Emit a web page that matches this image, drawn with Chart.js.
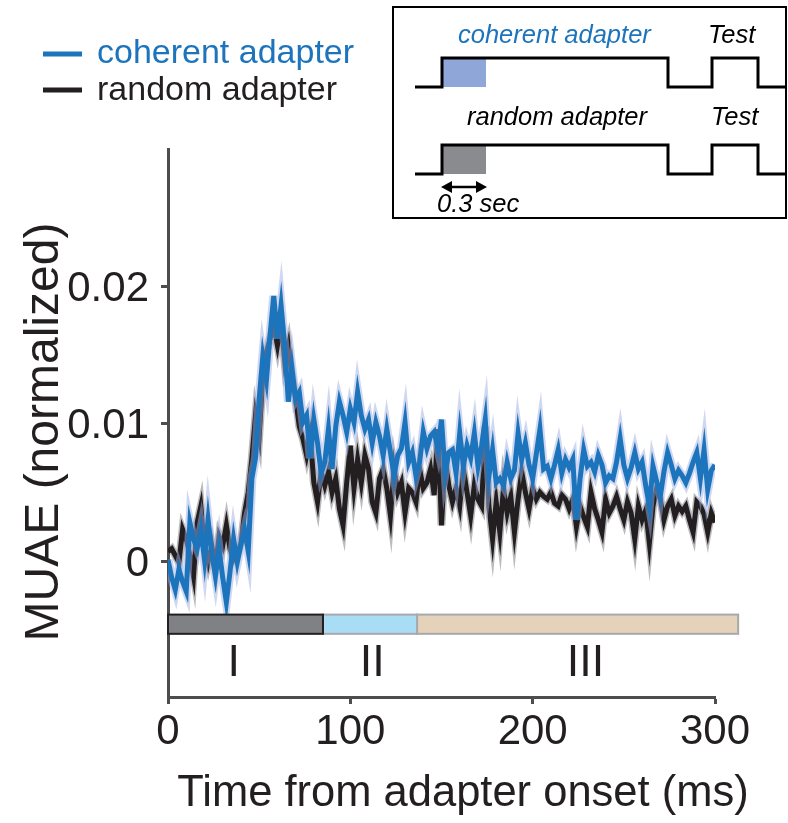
<!DOCTYPE html>
<html>
<head>
<meta charset="utf-8">
<script src="https://cdn.jsdelivr.net/npm/chart.js@4.4.1/dist/chart.umd.min.js"></script>
<style>
html,body{margin:0;padding:0;background:#fff;}
#wrap{width:788px;height:823px;position:relative;}
</style>
</head>
<body>
<div id="wrap"><canvas id="c" width="788" height="823"></canvas></div>
<script>
// ---- data ----
const timeMs = [0,2,4,6,8,10,12,14,16,18,20,22,24,26,28,30,32,34,36,38,40,42,44,46,48,50,52,54,56,58,60,62,64,66,68,70,72,74,76,78,80,82,84,86,88,90,92,94,96,98,100,102,104,106,108,110,112,114,116,118,120,122,124,126,128,130,132,134,136,138,140,142,144,146,148,150,152,154,156,158,160,162,164,166,168,170,172,174,176,178,180,182,184,186,188,190,192,194,196,198,200,202,204,206,208,210,212,214,216,218,220,222,224,226,228,230,232,234,236,238,240,242,244,246,248,250,252,254,256,258,260,262,264,266,268,270,272,274,276,278,280,282,284,286,288,290,292,294,296,298,300];

const coherent = [0.0001,-0.0012,-0.0021,-0.0006,-0.0015,-0.0022,0.0028,0.0016,0.0009,0.0023,
0.0001,0.0030,0.0006,-0.0011,0.0009,-0.0012,-0.0030,-0.0008,0.0016,-0.0001,
0.0012,0.0023,0.0007,0.0060,0.0075,0.0118,0.0149,0.0132,0.0165,0.0193,
0.0162,0.0186,0.0157,0.0116,0.0140,0.0118,0.0123,0.0101,0.0106,0.0075,
0.0103,0.0086,0.0064,0.0072,0.0096,0.0067,0.0098,0.0116,0.0106,0.0094,
0.0111,0.0101,0.0123,0.0106,0.0096,0.0103,0.0086,0.0101,0.0091,0.0077,
0.0096,0.0079,0.0062,0.0077,0.0082,0.0101,0.0072,0.0079,0.0062,0.0072,
0.0094,0.0082,0.0091,0.0094,0.0082,0.0103,0.0064,0.0079,0.0081,0.0064,
0.0093,0.0069,0.0084,0.0075,0.0093,0.0069,0.0084,0.0103,0.0062,0.0081,
0.0057,0.0060,0.0055,0.0072,0.0060,0.0066,0.0093,0.0074,0.0086,0.0070,
0.0060,0.0078,0.0096,0.0067,0.0069,0.0060,0.0070,0.0081,0.0064,0.0074,
0.0068,0.0074,0.0030,0.0060,0.0081,0.0069,0.0072,0.0065,0.0077,0.0070,
0.0057,0.0062,0.0060,0.0072,0.0089,0.0070,0.0060,0.0068,0.0079,0.0067,
0.0072,0.0055,0.0040,0.0069,0.0058,0.0047,0.0065,0.0079,0.0070,0.0060,
0.0066,0.0062,0.0057,0.0064,0.0072,0.0079,0.0060,0.0081,0.0052,0.0066,
0.0070];

const random = [0.0007,0.0009,0.0004,-0.0001,0.0023,0.0016,0.0004,-0.0011,0.0028,0.0040,
0.0011,-0.0001,0.0011,-0.0004,0.0018,0.0011,0.0026,0.0009,0.0001,0.0005,
0.0013,0.0035,0.0050,0.0075,0.0106,0.0091,0.0135,0.0152,0.0162,0.0171,
0.0157,0.0174,0.0145,0.0157,0.0135,0.0118,0.0098,0.0089,0.0077,0.0091,
0.0057,0.0043,0.0065,0.0055,0.0065,0.0050,0.0060,0.0038,0.0026,0.0057,
0.0084,0.0053,0.0074,0.0057,0.0077,0.0067,0.0043,0.0035,0.0060,0.0067,
0.0053,0.0033,0.0067,0.0050,0.0057,0.0035,0.0053,0.0050,0.0043,0.0067,
0.0053,0.0057,0.0067,0.0048,0.0096,0.0026,0.0075,0.0055,0.0043,0.0053,
0.0040,0.0067,0.0050,0.0033,0.0055,0.0045,0.0040,0.0098,0.0040,0.0016,
0.0043,0.0021,0.0053,0.0035,0.0047,0.0021,0.0045,0.0065,0.0050,0.0038,
0.0053,0.0045,0.0050,0.0047,0.0045,0.0050,0.0042,0.0040,0.0048,0.0045,
0.0038,0.0045,0.0025,0.0040,0.0032,0.0025,0.0050,0.0038,0.0030,0.0021,
0.0045,0.0035,0.0040,0.0047,0.0038,0.0030,0.0043,0.0035,0.0016,0.0040,
0.0030,0.0037,0.0013,0.0040,0.0053,0.0045,0.0030,0.0040,0.0045,0.0033,
0.0040,0.0036,0.0040,0.0030,0.0021,0.0043,0.0040,0.0034,0.0021,0.0035,
0.0028];

const seriesNames = ['coherent adapter', 'random adapter'];
const xTitle = 'Time from adapter onset (ms)';
const yTitle = 'MUAE (normalized)';
const xTickValues = [0, 100, 200, 300];
const yTickValues = [0, 0.01, 0.02];
const phaseEdges = [0, 85, 136.6, 312.7];
const phaseNames = ['I', 'II', 'III'];

// ---- styles ----
const FONT = "'Liberation Sans', Arial, Helvetica, sans-serif";
const BLUE = '#1c75bc';
const BLACK = '#231f20';
const AXIS = '#4d4d4d';
Chart.defaults.font.family = FONT;
Chart.defaults.color = BLACK;

const pts = arr => timeMs.map((t, i) => ({x: t, y: arr[i]}));

const phasePlugin = {
  id: 'phases',
  afterDatasetsDraw(chart) {
    const {ctx, scales: {x, y}} = chart;
    const top = y.getPixelForValue(-0.0039), bot = y.getPixelForValue(-0.0053);
    const fills = ['#808185', '#a9ddf6', '#e4d3ba'];
    const strokes = ['#231f20', '#a7a9ac', '#a7a9ac'];
    ctx.save();
    for (let k = phaseNames.length - 1; k >= 0; k--) {
      const x0 = x.getPixelForValue(phaseEdges[k]), x1 = x.getPixelForValue(phaseEdges[k + 1]);
      ctx.fillStyle = fills[k];
      ctx.fillRect(x0, top, x1 - x0, bot - top);
      ctx.strokeStyle = strokes[k];
      ctx.lineWidth = 2;
      ctx.strokeRect(x0, top, x1 - x0, bot - top);
    }
    ctx.fillStyle = BLACK;
    ctx.font = "45px " + FONT;
    ctx.textAlign = 'center';
    ctx.textBaseline = 'middle';
    const ly = y.getPixelForValue(-0.0075);
    const labelPos = [36, 112, 229];
    phaseNames.forEach((n, k) => ctx.fillText(n, x.getPixelForValue(labelPos[k]), ly));
    ctx.restore();
  }
};

const decorPlugin = {
  id: 'decor',
  afterDraw(chart) {
    const ctx = chart.ctx;
    ctx.save();
    // axis titles
    ctx.fillStyle = BLACK;
    ctx.textAlign = 'center';
    ctx.textBaseline = 'middle';
    ctx.font = "43.5px " + FONT;
    ctx.fillText(xTitle, 463, 794);
    ctx.save();
    ctx.translate(45, 432);
    ctx.rotate(-Math.PI / 2);
    ctx.font = "48px " + FONT;
    ctx.fillText(yTitle, 0, 0);
    ctx.restore();
    // legend
    const legendColors = [BLUE, BLACK];
    ctx.font = "34px " + FONT;
    ctx.textAlign = 'left';
    ctx.textBaseline = 'alphabetic';
    [[54, 63], [90, 100]].forEach(([ly, by], i) => {
      ctx.strokeStyle = legendColors[i];
      ctx.lineWidth = 5;
      ctx.beginPath(); ctx.moveTo(43, ly); ctx.lineTo(82, ly); ctx.stroke();
      ctx.fillStyle = legendColors[i];
      ctx.fillText(seriesNames[i], 97, by);
    });
    // inset protocol
    ctx.strokeStyle = '#000';
    ctx.lineWidth = 2;
    ctx.strokeRect(393, 7, 393, 211);
    const drawTrace = (lo, hi, fill) => {
      ctx.fillStyle = fill;
      ctx.fillRect(442, hi, 44, lo - hi);
      ctx.strokeStyle = '#000';
      ctx.lineWidth = 3;
      ctx.lineJoin = 'miter';
      ctx.beginPath();
      ctx.moveTo(415, lo); ctx.lineTo(442, lo); ctx.lineTo(442, hi); ctx.lineTo(668, hi);
      ctx.lineTo(668, lo); ctx.lineTo(712, lo); ctx.lineTo(712, hi); ctx.lineTo(758, hi);
      ctx.lineTo(758, lo); ctx.lineTo(785, lo);
      ctx.stroke();
    };
    drawTrace(87, 58, '#8fa6d8');
    drawTrace(174, 145, '#8a8b8f');
    // arrow
    ctx.lineWidth = 2.5;
    ctx.beginPath(); ctx.moveTo(450, 187); ctx.lineTo(478, 187); ctx.stroke();
    ctx.fillStyle = '#000';
    ctx.beginPath(); ctx.moveTo(441, 187); ctx.lineTo(452, 181); ctx.lineTo(452, 193); ctx.closePath(); ctx.fill();
    ctx.beginPath(); ctx.moveTo(487, 187); ctx.lineTo(476, 181); ctx.lineTo(476, 193); ctx.closePath(); ctx.fill();
    ctx.font = "italic 25.5px " + FONT;
    ctx.fillStyle = BLUE;
    ctx.fillText('coherent adapter', 458, 43);
    ctx.fillStyle = '#000';
    ctx.fillText('Test', 708, 43);
    ctx.fillText('random adapter', 467, 125);
    ctx.fillText('Test', 711, 125);
    ctx.fillText('0.3 sec', 437, 212);
    ctx.restore();
  }
};

new Chart(document.getElementById('c'), {
  type: 'line',
  data: {
    datasets: [
      {label: seriesNames[0], data: pts(coherent), borderColor: BLUE, borderWidth: 5, order: 0},
      {label: seriesNames[0] + ' sem', data: pts(coherent), borderColor: 'rgba(160,176,228,0.5)', borderWidth: 9, order: 1},
      {label: seriesNames[1], data: pts(random), borderColor: BLACK, borderWidth: 5, order: 2},
      {label: seriesNames[1] + ' sem', data: pts(random), borderColor: 'rgba(60,60,72,0.35)', borderWidth: 8, order: 3}
    ]
  },
  options: {
    responsive: false,
    animation: false,
    elements: {point: {radius: 0}, line: {tension: 0, borderJoinStyle: 'miter'}},
    layout: {padding: {top: 149, right: 73, left: 0, bottom: 0}},
    plugins: {legend: {display: false}, tooltip: {enabled: false}},
    scales: {
      x: {
        type: 'linear', min: 0, max: 300,
        afterBuildTicks: s => { s.ticks = xTickValues.map(v => ({value: v})); },
        afterFit: s => { s.height = 126; },
        ticks: {font: {size: 42}, color: BLACK, padding: 3, maxRotation: 0, autoSkip: false},
        grid: {drawOnChartArea: false, tickLength: 7, tickColor: AXIS, tickWidth: 3},
        border: {color: AXIS, width: 3},
        title: {display: false, text: xTitle}
      },
      y: {
        type: 'linear', min: -0.0099, max: 0.030,
        afterBuildTicks: s => { s.ticks = yTickValues.map(v => ({value: v})); },
        afterFit: s => { s.width = 168; },
        ticks: {font: {size: 42}, color: BLACK, padding: 12, labelOffset: 3,
                callback: v => (v === 0 ? '0' : v.toFixed(2))},
        grid: {drawOnChartArea: false, tickLength: 7, tickColor: AXIS, tickWidth: 3},
        border: {color: AXIS, width: 3},
        title: {display: false, text: yTitle}
      }
    }
  },
  plugins: [phasePlugin, decorPlugin]
});
</script>
</body>
</html>
